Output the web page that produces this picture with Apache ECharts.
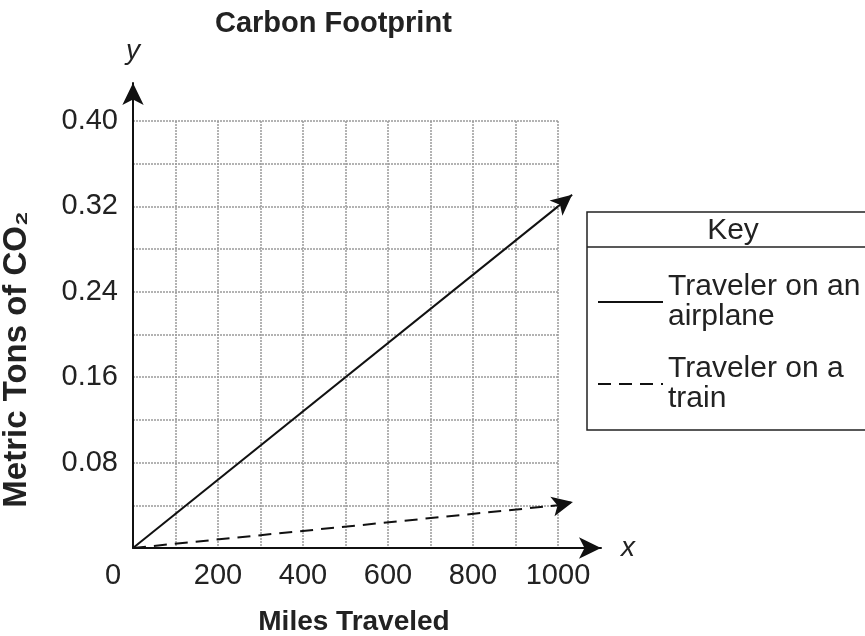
<!DOCTYPE html>
<html><head><meta charset="utf-8">
<script src="https://cdn.jsdelivr.net/npm/echarts@6/dist/echarts.min.js"></script>
<style>html,body{margin:0;padding:0;background:#fff}#c{width:865px;height:636px}</style>
</head><body><div id="c"></div>
<script>
const chartTitle = 'Carbon Footprint';
const xTitle = 'Miles Traveled';
const yTitle = 'Metric Tons of CO\u2082';
const keyTitle = 'Key';
const seriesNames = ['Traveler on an\nairplane', 'Traveler on a\ntrain'];
// data
const miles = [0, 1000];
const airplaneTons = [0, 0.32];
const trainTons = [0, 0.04];
// tips of the arrowheads
const arrowTipMiles = [1033, 1035];
const arrowTipTons = [0.331, 0.043];
// tick labels
const xTickLabels = [0, 200, 400, 600, 800, 1000];
const yTickLabels = [0.08, 0.16, 0.24, 0.32, 0.40];

const FONT = 'Liberation Sans, Arial, Helvetica, sans-serif';
const chart = echarts.init(document.getElementById('c'), null, {renderer: 'canvas'});

function seriesData(vals) {
  return miles.map((m, k) => [m, vals[k]]);
}
function makeSeries(i, vals, dash) {
  const last = miles.length - 1;
  return {
    name: seriesNames[i], type: 'line', xAxisIndex: 1, yAxisIndex: 1,
    data: seriesData(vals), symbol: 'none', showSymbol: false,
    lineStyle: {color: '#111', width: 2, type: dash},
    itemStyle: {color: '#111'}, animation: false, silent: true,
    markLine: {
      silent: true, animation: false, symbol: ['none', 'arrow'], symbolSize: [15, 21],
      label: {show: false}, lineStyle: {color: '#111', width: 2, type: dash},
      data: [[{coord: [miles[last], vals[last]]}, {coord: [arrowTipMiles[i], arrowTipTons[i]]}]]
    }
  };
}

const option = {
  backgroundColor: '#fff',
  animation: false,
  textStyle: {fontFamily: FONT},
  title: {
    text: chartTitle, left: 210, top: 4,
    textStyle: {fontFamily: FONT, fontSize: 29, fontWeight: 'bold', color: '#222'}
  },
  grid: [
    {left: 133, top: 121, width: 425, height: 427, outerBoundsMode: 'none', containLabel: false},
    {left: 133, top: 83, width: 468, height: 465, outerBoundsMode: 'none', containLabel: false}
  ],
  xAxis: [
    {
      gridIndex: 0, type: 'value', min: 0, max: 1000, interval: 100,
      axisLine: {show: false}, axisTick: {show: false},
      axisLabel: {
        fontFamily: FONT, fontSize: 29, color: '#222', margin: 13, showMaxLabel: true, showMinLabel: true,
        hideOverlap: false,
        formatter: v => v === 0 ? '{z|0}' : (xTickLabels.indexOf(v) >= 0 ? String(v) : ''),
        rich: {z: {fontFamily: FONT, fontSize: 29, color: '#222', padding: [0, 40, 0, 0]}}
      },
      splitLine: {show: true, lineStyle: {color: '#9a9a9a', width: 1.5, type: [2, 1]}},
      name: xTitle, nameLocation: 'middle', nameGap: 60, nameMoveOverlap: false,
      nameTextStyle: {fontFamily: FONT, fontSize: 28, fontWeight: 'bold', color: '#222', padding: [0, 0, 0, 17]}
    },
    {
      gridIndex: 1, type: 'value', min: 0, max: 1101,
      axisLine: {show: true, symbol: ['none', 'arrow'], symbolSize: [16, 22], lineStyle: {color: '#111', width: 2}},
      axisTick: {show: false}, axisLabel: {show: false}, splitLine: {show: false},
      name: 'x', nameLocation: 'end', nameGap: 20, nameMoveOverlap: false,
      nameTextStyle: {fontFamily: FONT, fontSize: 28, fontStyle: 'italic', color: '#222'}
    }
  ],
  yAxis: [
    {
      gridIndex: 0, type: 'value', min: 0, max: 0.4, interval: 0.04,
      axisLine: {show: false}, axisTick: {show: false},
      axisLabel: {
        fontFamily: FONT, fontSize: 29, color: '#222', margin: 15, showMaxLabel: true, hideOverlap: false,
        formatter: v => {
          const r = Math.round(v * 100) / 100;
          return yTickLabels.some(t => Math.abs(t - r) < 1e-9) ? r.toFixed(2) : '';
        }
      },
      splitLine: {show: true, lineStyle: {color: '#9a9a9a', width: 1.5, type: [2, 1]}},
      name: yTitle, nameLocation: 'middle', nameRotate: 90, nameGap: 100, nameMoveOverlap: false,
      nameTextStyle: {fontFamily: FONT, fontSize: 33, fontWeight: 'bold', color: '#222', padding: [0, 50, 0, 0]}
    },
    {
      gridIndex: 1, type: 'value', min: 0, max: 0.4356,
      axisLine: {show: true, symbol: ['none', 'arrow'], symbolSize: [16, 22], lineStyle: {color: '#111', width: 2}},
      axisTick: {show: false}, axisLabel: {show: false}, splitLine: {show: false},
      name: 'y', nameLocation: 'end', nameGap: 18, nameMoveOverlap: false,
      nameTextStyle: {fontFamily: FONT, fontSize: 28, fontStyle: 'italic', color: '#222'}
    }
  ],
  legend: {
    orient: 'vertical', left: 597, top: 272, padding: 0,
    itemWidth: 65, itemHeight: 14, itemGap: 22, selectedMode: false,
    data: seriesNames,
    itemStyle: {opacity: 0},
    textStyle: {fontFamily: FONT, fontSize: 30, lineHeight: 30, color: '#222'}
  },
  graphic: [
    {type: 'rect', z: 0, shape: {x: 587, y: 212, width: 300, height: 218},
      style: {fill: '#fff', stroke: '#222', lineWidth: 1.5}},
    {type: 'line', z: 1, shape: {x1: 587, y1: 247, x2: 870, y2: 247},
      style: {stroke: '#222', lineWidth: 1.5}},
    {type: 'text', z: 1, x: 733, y: 231,
      style: {text: keyTitle, font: '30px ' + FONT, fill: '#222', textAlign: 'center', textVerticalAlign: 'middle'}}
  ],
  series: [
    makeSeries(0, airplaneTons, 'solid'),
    makeSeries(1, trainTons, [13, 8])
  ]
};
chart.setOption(option);
</script>
</body></html>
